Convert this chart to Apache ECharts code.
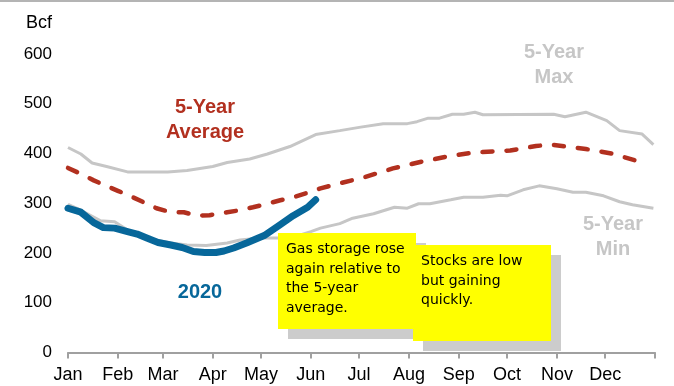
<!DOCTYPE html>
<html>
<head>
<meta charset="utf-8">
<script src="https://cdn.jsdelivr.net/npm/echarts@6/dist/echarts.min.js"></script>
<style>
  html, body { margin: 0; padding: 0; background: #fff; }
  #chart { width: 674px; height: 386px; }
</style>
</head>
<body>
<div id="chart"></div>
<script>
// Month boundaries (day of year) and their labels
const monthStarts = [0, 31, 59, 90, 120, 151, 181, 212, 243, 273, 304, 334, 365];
const monthNames = ['Jan', 'Feb', 'Mar', 'Apr', 'May', 'Jun', 'Jul', 'Aug', 'Sep', 'Oct', 'Nov', 'Dec'];

// 5-year maximum storage (Bcf) by day of year
const maxDays = [0, 8, 15, 24, 37, 62, 74, 90, 99, 113, 124, 138, 154, 169, 182, 196, 211, 217, 224, 231, 239, 246, 253, 258, 302, 309, 322, 335, 343, 357, 364];
const maxVals = [412, 399, 381, 374, 363, 363, 366, 374, 382, 389, 399, 414, 438, 446, 453, 460, 460, 464, 471, 471, 479, 479, 483, 478, 479, 474, 483, 466, 446, 439, 418];

// 5-year minimum storage (Bcf)
const minDays = [0, 8, 20, 29, 37, 43, 49, 56, 64, 74, 86, 99, 107, 120, 132, 138, 144, 151, 157, 169, 177, 190, 203, 211, 218, 225, 238, 246, 258, 269, 273, 283, 293, 304, 314, 322, 333, 343, 351, 364];
const minVals = [298, 286, 265, 263, 246, 240, 232, 225, 220, 216, 215, 220, 226, 230, 230, 230, 236, 243, 250, 259, 270, 279, 292, 290, 299, 299, 307, 312, 312, 316, 315, 327, 335, 329, 322, 322, 315, 303, 297, 290];

// 5-year average storage (Bcf)
const avgDays = [0, 8, 16, 23, 31, 39, 47, 55, 64, 72, 80, 88, 99, 107, 115, 124, 132, 140, 149, 157, 169, 185, 202, 219, 236, 252, 275, 291, 300, 310, 322, 338, 354, 360];
const avgVals = [371, 359, 346, 336, 325, 314, 302, 290, 282, 282, 275, 276, 282, 286, 292, 299, 306, 312, 321, 330, 340, 353, 370, 383, 394, 402, 406, 415, 418, 414, 409, 400, 385, 378];

// 2020 storage (Bcf)
const days2020 = [0, 8, 16, 22, 29, 37, 43, 49, 56, 64, 71, 78, 85, 92, 97, 103, 111, 122, 132, 140, 149, 154];
const vals2020 = [290, 282, 261, 251, 250, 243, 238, 230, 221, 216, 211, 203, 201, 201, 204, 210, 220, 235, 257, 275, 292, 307];

const zip = (xs, ys) => xs.map((x, i) => [x, ys[i]]);

const FONT = '"Liberation Sans", Arial, Helvetica, sans-serif';
const NOTE_FONT = '"Comic Sans MS", "DejaVu Sans", sans-serif';
const GRAY = '#c6c6c6';
const RED = '#b2301f';
const BLUE = '#07679a';

const chart = echarts.init(document.getElementById('chart'), null, { renderer: 'canvas' });

// Yellow sticky note with a grey drop shadow
function note(x, y, w, h, textX, textY, text) {
  return [
    { type: 'rect', z: 100, shape: { x: x + 10, y: y + 10, width: w, height: h }, style: { fill: '#cccccc' } },
    { type: 'rect', z: 101, shape: { x: x, y: y, width: w, height: h }, style: { fill: '#ffff00' } },
    { type: 'text', z: 102, x: textX, y: textY,
      style: { text: text, fill: '#000', font: '14px ' + NOTE_FONT, lineHeight: 19.5, align: 'left', verticalAlign: 'top' } }
  ];
}

const option = {
  animation: false,
  backgroundColor: '#fff',
  grid: { left: 68, right: 19, top: 54, bottom: 33.5, containLabel: false },
  xAxis: {
    type: 'value', min: 0, max: 365,
    splitLine: { show: false },
    axisLine: { show: true, lineStyle: { color: '#a0a0a0', width: 2 } },
    axisTick: { show: true, length: 6, customValues: monthStarts, lineStyle: { color: '#a0a0a0', width: 2 } },
    axisLabel: {
      customValues: monthStarts.slice(0, 12),
      formatter: v => monthNames[monthStarts.indexOf(v)],
      color: '#000', fontSize: 18, fontFamily: FONT, margin: 14
    }
  },
  yAxis: {
    type: 'value', min: 0, max: 600, interval: 100,
    splitLine: { show: false },
    axisLine: { show: false },
    axisTick: { show: false },
    axisLabel: { color: '#000', fontSize: 17, fontFamily: FONT, margin: 16 }
  },
  series: [
    { name: '5-Year Max', type: 'line', data: zip(maxDays, maxVals), symbol: 'none', z: 2,
      lineStyle: { color: GRAY, width: 3 } },
    { name: '5-Year Min', type: 'line', data: zip(minDays, minVals), symbol: 'none', z: 2,
      lineStyle: { color: GRAY, width: 3 } },
    { name: '5-Year Average', type: 'line', data: zip(avgDays, avgVals), symbol: 'none', z: 3,
      lineStyle: { color: RED, width: 4.5, type: [10, 14], cap: 'round' } },
    { name: '2020', type: 'line', data: zip(days2020, vals2020), symbol: 'none', z: 4,
      lineStyle: { color: BLUE, width: 7, cap: 'round', join: 'round' } }
  ],
  graphic: [
    { type: 'rect', shape: { x: 0, y: 0, width: 674, height: 2 }, style: { fill: '#b4b4b4' } },
    { type: 'text', x: 52, y: 23, style: { text: 'Bcf', fill: '#000', font: '18px ' + FONT, align: 'right', verticalAlign: 'middle' } },
    { type: 'text', x: 205, y: 120, style: { text: '5-Year\nAverage', fill: RED, font: 'bold 20px ' + FONT, lineHeight: 25, align: 'center', verticalAlign: 'middle' } },
    { type: 'text', x: 554, y: 65, style: { text: '5-Year\nMax', fill: GRAY, font: 'bold 20px ' + FONT, lineHeight: 25, align: 'center', verticalAlign: 'middle' } },
    { type: 'text', x: 613, y: 237, style: { text: '5-Year\nMin', fill: GRAY, font: 'bold 20px ' + FONT, lineHeight: 25, align: 'center', verticalAlign: 'middle' } },
    { type: 'text', x: 200, y: 292, style: { text: '2020', fill: BLUE, font: 'bold 20px ' + FONT, align: 'center', verticalAlign: 'middle' } },
    ...note(278, 233, 138, 96, 286, 240, 'Gas storage rose\nagain relative to\nthe 5-year\naverage.'),
    ...note(413, 245, 138, 96, 421, 252, 'Stocks are low\nbut gaining\nquickly.')
  ]
};

chart.setOption(option);
</script>
</body>
</html>
